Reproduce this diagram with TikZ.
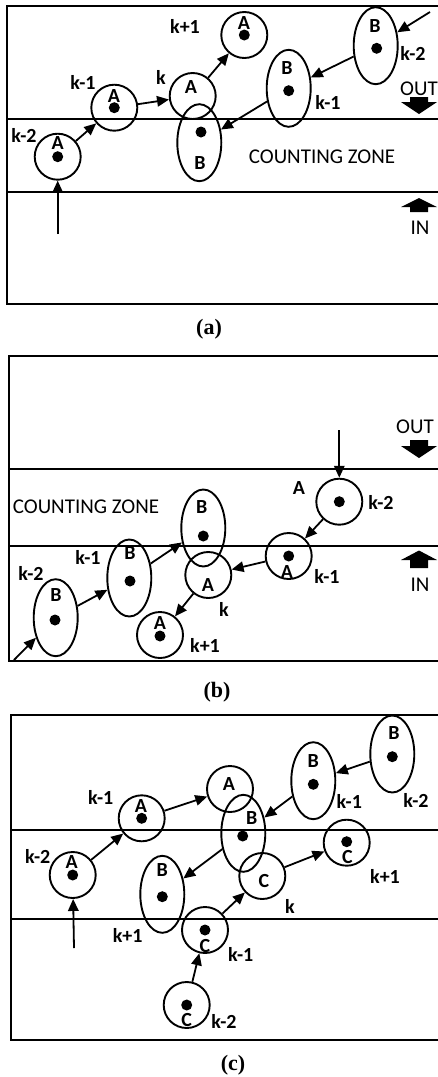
\documentclass[tikz,border=0pt]{standalone}
\usepackage{fontspec}
\setmainfont{Carlito}
\newfontfamily\capfont{Liberation Serif}
\usetikzlibrary{shapes.geometric,arrows.meta}
\tikzset{
  obj/.style={draw, line width=1.9pt, inner sep=0pt},
  circ/.style={obj, circle, minimum size=46pt},
  ell/.style={obj, ellipse, minimum width=44pt, minimum height=77pt},
  dotn/.style={circle, fill, inner sep=0pt, minimum size=11pt},
  lab/.style={font=\bfseries\fontsize{20}{20}\selectfont, inner sep=0pt},
  zone/.style={font=\fontsize{21}{21}\selectfont, inner sep=0pt},
  captxt/.style={font=\capfont\bfseries\fontsize{22}{22}\selectfont, inner sep=0pt},
  mv/.style={line width=1.8pt, -{Triangle[length=12pt,width=10.5pt]}},
  frame/.style={line width=2pt},
  blk/.style={fill=black}
}
\begin{document}
\begin{tikzpicture}[x=1pt,y=-1pt]
\useasboundingbox (0,0) rectangle (438,1077);
% ================= panel (a) =================
\draw[frame] (438,6) -- (7.3,6) -- (7.3,304) -- (438,304);
\draw[frame] (7.3,119) -- (438,119);
\draw[frame] (7.3,192) -- (438,192);
\node[zone] (czA) at (322,157) {COUNTING ZONE};
\node[zone] (outA) at (419,89) {OUT};
\node[zone] (inA) at (420,228) {IN};
\fill[blk] (410,97) -- (428,97) -- (428,102) -- (437,102) -- (419,114) -- (401,102) -- (410,102) -- cycle;
\fill[blk] (419,198) -- (437,207) -- (428,207) -- (428,212) -- (410,212) -- (410,207) -- (401,207) -- cycle;
\node[circ] (aA1) at (57.7,156.7) {};
\node[circ] (aA2) at (114.3,107.7) {};
\node[circ] (aA3) at (192.7,96) {};
\node[circ] (aA4) at (244.3,35) {};
\node[ell] (aB3) at (199.3,142.7) {};
\node[ell] (aB2) at (288.7,88.3) {};
\node[ell] (aB1) at (375.7,45.7) {};
\node[dotn] (ad1) at (57.7,156.7) {};
\node[dotn] (ad2) at (114.3,107.7) {};
\node[dotn] (ad4) at (244.3,35) {};
\node[dotn] (ad5) at (201,132) {};
\node[dotn] (ad6) at (288.7,90.7) {};
\node[dotn] (ad7) at (376.7,48.3) {};
\node[lab] (aL1) at (57.7,143) {A};
\node[lab] (aL2) at (114,96) {A};
\node[lab] (aL3) at (191,87) {A};
\node[lab] (aL4) at (244,23) {A};
\node[lab] (aL5) at (200,163) {B};
\node[lab] (aL6) at (287,68) {B};
\node[lab] (aL7) at (375,26) {B};
\node[lab] (aK1) at (24,135) {k-2};
\node[lab] (aK2) at (83,82) {k-1};
\node[lab] (aK3) at (161,77) {k};
\node[lab] (aK4) at (185,26) {k+1};
\node[lab] (aK5) at (328,102) {k-1};
\node[lab] (aK6) at (413,53) {k-2};
\coordinate (aS1) at (57.7,234);
\coordinate (aS2) at (430,12);
\draw[mv] (aS1) -- (aA1);
\draw[mv] (aA1) -- (aA2);
\draw[mv] (aA2) -- (aA3);
\draw[mv] (aA3) -- (aA4);
\draw[mv] (aS2) -- (aB1);
\draw[mv] (aB1) -- (aB2);
\draw[mv] (aB2) -- (aB3);
\node[captxt] (capA) at (209,329) {(a)};
% ================= panel (b) =================
\draw[frame] (438,356) -- (9.3,356) -- (9.3,661) -- (438,661);
\draw[frame] (9.3,469) -- (438,469);
\draw[frame] (9.3,546) -- (438,546);
\node[zone] (czB) at (86,507) {COUNTING ZONE};
\node[zone] (outB) at (415,427) {OUT};
\node[zone] (inB) at (420,585) {IN};
\fill[blk] (410,440) -- (428,440) -- (428,446) -- (437,446) -- (419,458) -- (401,446) -- (410,446) -- cycle;
\fill[blk] (419,550.5) -- (437,560) -- (428,560) -- (428,568) -- (410,568) -- (410,560) -- (401,560) -- cycle;
\node[circ] (bA1) at (339.3,501.7) {};
\node[circ] (bA2) at (288.7,556) {};
\node[circ] (bA3) at (208.3,575) {};
\node[circ] (bA4) at (160,635) {};
\node[ell] (bB3) at (203.3,528) {};
\node[ell] (bB2) at (129.3,578) {};
\node[ell] (bB1) at (55.7,617.7) {};
\node[dotn] (bd1) at (339.3,501.7) {};
\node[dotn] (bd2) at (288.7,556) {};
\node[dotn] (bd4) at (160,636) {};
\node[dotn] (bd5) at (203.3,536) {};
\node[dotn] (bd6) at (130,581) {};
\node[dotn] (bd7) at (55,620) {};
\node[lab] (bL1) at (299,488) {A};
\node[lab] (bL2) at (287,572) {A};
\node[lab] (bL3) at (208,585) {A};
\node[lab] (bL4) at (160,623) {A};
\node[lab] (bL5) at (201.7,507) {B};
\node[lab] (bL6) at (130,553) {B};
\node[lab] (bL7) at (56,595) {B};
\node[lab] (bK1) at (381,502) {k-2};
\node[lab] (bK2) at (327,576) {k-1};
\node[lab] (bK3) at (224,609) {k};
\node[lab] (bK4) at (205,645) {k+1};
\node[lab] (bK5) at (88,557) {k-1};
\node[lab] (bK6) at (31,573) {k-2};
\coordinate (bS1) at (339.3,430);
\coordinate (bS2) at (14,660);
\draw[mv] (bS1) -- (bA1);
\draw[mv] (bA1) -- (bA2);
\draw[mv] (bA2) -- (bA3);
\draw[mv] (bA3) -- (bA4);
\draw[mv] (bS2) -- (bB1);
\draw[mv] (bB1) -- (bB2);
\draw[mv] (bB2) -- (bB3);
\node[captxt] (capB) at (217,692) {(b)};
% ================= panel (c) =================
\draw[frame] (438,715) -- (10.7,715) -- (10.7,1040) -- (438,1040);
\draw[frame] (10.7,830) -- (438,830);
\draw[frame] (10.7,918.7) -- (438,918.7);
\node[circ] (cA1) at (72.7,875) {};
\node[circ] (cA2) at (141.7,818.3) {};
\node[circ] (cA3) at (230,789) {};
\node[ell] (cB3) at (243.3,833.3) {};
\node[ell] (cB2) at (313.3,780.7) {};
\node[ell] (cB1) at (392.3,754) {};
\node[ell] (cB4) at (162.3,894.3) {};
\node[circ] (cC1) at (186.7,1005) {};
\node[circ] (cC2) at (205,930) {};
\node[circ] (cC3) at (262.3,876) {};
\node[circ] (cC4) at (346.7,842.7) {};
\node[dotn] (cd1) at (72.7,875) {};
\node[dotn] (cd2) at (141.7,818.3) {};
\node[dotn] (cd3) at (242.7,836) {};
\node[dotn] (cd4) at (313.3,784.3) {};
\node[dotn] (cd5) at (392.3,756.7) {};
\node[dotn] (cd6) at (162.3,896.7) {};
\node[dotn] (cd7) at (186.7,1005) {};
\node[dotn] (cd8) at (205,930) {};
\node[dotn] (cd9) at (346.7,841.7) {};
\node[lab] (cL1) at (71.7,861.7) {A};
\node[lab] (cL2) at (141,806) {A};
\node[lab] (cL3) at (229,784) {A};
\node[lab] (cL4) at (251.7,817.7) {B};
\node[lab] (cL5) at (313.3,761) {B};
\node[lab] (cL6) at (394,732.7) {B};
\node[lab] (cL7) at (162.3,870) {B};
\node[lab] (cL8) at (186.7,1020) {C};
\node[lab] (cL9) at (205,946) {C};
\node[lab] (cL10) at (264,880.7) {C};
\node[lab] (cL11) at (347.3,857.3) {C};
\node[lab] (cK1) at (37.7,856) {k-2};
\node[lab] (cK2) at (100.7,797.7) {k-1};
\node[lab] (cK3) at (349.3,801.7) {k-1};
\node[lab] (cK4) at (416,800) {k-2};
\node[lab] (cK5) at (127.7,935) {k+1};
\node[lab] (cK6) at (224,1021) {k-2};
\node[lab] (cK7) at (240.7,954) {k-1};
\node[lab] (cK8) at (290,906.7) {k};
\node[lab] (cK9) at (385,876.7) {k+1};
\coordinate (cS1) at (74,948);
\draw[mv] (cS1) -- (cA1);
\draw[mv] (cA1) -- (cA2);
\draw[mv] (cA2) -- (cA3);
\draw[mv] (cB1) -- (cB2);
\draw[mv] (cB2) -- (cB3);
\draw[mv] (cB3) -- (cB4);
\draw[mv] (cC1) -- (cC2);
\draw[mv] (cC2) -- (cC3);
\draw[mv] (cC3) -- (cC4);
\node[captxt] (capC) at (233,1065) {(c)};
\end{tikzpicture}
\end{document}
